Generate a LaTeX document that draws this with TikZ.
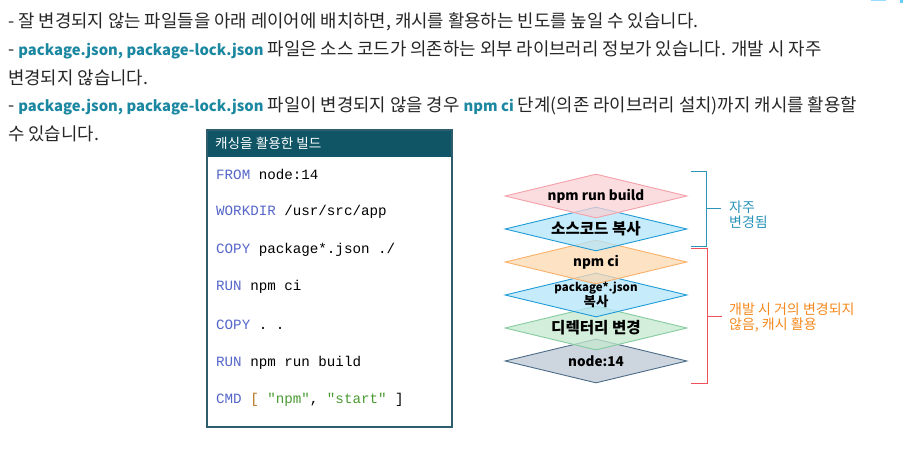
\documentclass[tikz,border=0pt]{standalone}
\usepackage{fontspec}
\setmainfont{Noto Sans CJK KR}
\newfontfamily\codefont{Liberation Mono}
\usetikzlibrary{shapes.geometric,positioning}

\definecolor{hiteal}{HTML}{1B87A0}
\definecolor{boxframe}{HTML}{2E5E6E}
\definecolor{boxhead}{HTML}{0F5566}
\definecolor{kwblue}{HTML}{5566C8}
\definecolor{strgreen}{HTML}{4A9A32}
\definecolor{brkorange}{HTML}{B8741E}
\definecolor{pinkfill}{HTML}{F9D1D5}
\definecolor{pinkline}{HTML}{F4A0A8}
\definecolor{bluefill}{HTML}{B3E5F9}
\definecolor{blueline}{HTML}{1E9AD6}
\definecolor{orangefill}{HTML}{FCD8B0}
\definecolor{orangeline}{HTML}{F8B068}
\definecolor{greenfill}{HTML}{C4E8CF}
\definecolor{greenline}{HTML}{84CB9D}
\definecolor{slatefill}{HTML}{BCC8D4}
\definecolor{slateline}{HTML}{4D6A89}
\definecolor{oftenteal}{HTML}{2A93B8}
\definecolor{rarelyorange}{HTML}{F5891E}
\definecolor{rarelyred}{HTML}{F0505A}

\newcommand{\hl}[1]{\textcolor{hiteal}{\bfseries\fontsize{14.8}{18}\selectfont #1}}

\tikzset{
	para/.style={anchor=west, inner sep=0, text=black!85, font=\fontsize{17.8}{20}\selectfont},
	codeline/.style={anchor=west, inner sep=0, font=\codefont\fontsize{14.2}{16}\selectfont},
	layer/.style={diamond, draw, line width=0.9pt, fill opacity=0.75, inner sep=0, minimum width=182, minimum height=44},
	layertext/.style={inner sep=0, align=center, font=\bfseries\fontsize{13.5}{14}\selectfont},
	kotext/.style={inner sep=0, align=center, font=\bfseries\fontsize{15.6}{16}\selectfont},
	side/.style={anchor=west, inner sep=0, align=left, font=\fontsize{14}{15}\selectfont}
}

\begin{document}
\begin{tikzpicture}[x=1pt,y=-1pt]
	
	\useasboundingbox (0,0) rectangle (903,463);
	\fill[blue!35!cyan!40] (871,0) rectangle (886,1.2);
	\fill[blue!35!cyan!60] (900,0) rectangle (903,3);
	
	\node[para] (line1) at (8,22) {- 잘 변경되지 않는 파일들을 아래 레이어에 배치하면, 캐시를 활용하는 빈도를 높일 수 있습니다.};
	\node[para] (line2) at (8,50) {- \hl{package.json, package-lock.json} 파일은 소스 코드가 의존하는 외부 라이브러리 정보가 있습니다. 개발 시 자주};
	\node[para] (line3) at (8,78) {변경되지 않습니다.};
	\node[para] (line4) at (8,106) {- \hl{package.json, package-lock.json} 파일이 변경되지 않을 경우 \hl{npm ci} 단계(의존 라이브러리 설치)까지 캐시를 활용할};
	\node[para] (line5) at (8,134) {수 있습니다.};
	
	\fill[boxhead] (207,130) rectangle (452,157);
	\draw[boxframe, line width=1.2pt] (207,130) rectangle (452,427);
	\node[anchor=west, inner sep=0, text=white, font=\fontsize{13.6}{14}\selectfont] (boxtitle) at (215,143.5) {캐싱을 활용한 빌드};
	
	\node[codeline] (from) at (216,174) {\textcolor{kwblue}{FROM} node:14};
	\node[codeline] (workdir) at (216,212) {\textcolor{kwblue}{WORKDIR} /usr/src/app};
	\node[codeline] (copypkg) at (216,250) {\textcolor{kwblue}{COPY} package*.json ./};
	\node[codeline] (runci) at (216,287) {\textcolor{kwblue}{RUN} npm ci};
	\node[codeline] (copyall) at (216,325) {\textcolor{kwblue}{COPY} . .};
	\node[codeline] (runbuild) at (216,363) {\textcolor{kwblue}{RUN} npm run build};
	\node[codeline] (cmd) at (216,400) {\textcolor{kwblue}{CMD} \textcolor{brkorange}{[} \textcolor{strgreen}{"npm"}, \textcolor{strgreen}{"start"} ]};
	
	\node[layer, draw=slateline, fill=slatefill] (base) at (596,361) {};
	\node[layer, draw=greenline, fill=greenfill] (workdirlayer) at (596,328) {};
	\node[layer, draw=blueline, fill=bluefill] (pkglayer) at (596,295) {};
	\node[layer, draw=orangeline, fill=orangefill] (cilayer) at (596,262) {};
	\node[layer, draw=blueline, fill=bluefill] (srclayer) at (596,229) {};
	\node[layer, draw=pinkline, fill=pinkfill] (buildlayer) at (596,196) {};
	
	\node[layertext] (buildtext) at (buildlayer) {npm run build};
	\node[kotext] (srctext) at (srclayer) {소스코드 복사};
	\node[layertext] (citext) at (cilayer) {npm ci};
	\node[layertext, font=\bfseries\fontsize{11.5}{13}\selectfont] (pkgtext) at (pkglayer) {package*.json\\{\fontsize{13.4}{13}\selectfont 복사}};
	\node[kotext] (workdirtext) at (workdirlayer) {디렉터리 변경};
	\node[layertext] (basetext) at (base) {node:14};
	
	\draw[oftenteal, line width=1pt] (691,171) -- (706,171) -- (706,246) -- (691,246);
	\draw[oftenteal, line width=1pt] (706,208.5) -- (721,208.5);
	\node[side, text=oftenteal] (often) at (729,215) {자주\\변경됨};
	
	\draw[rarelyred, line width=1pt] (691,248) -- (707,248) -- (707,383) -- (691,383);
	\draw[rarelyred, line width=1pt] (707,316.5) -- (722,316.5);
	\node[side, text=rarelyorange] (rarely) at (729,318) {개발 시 거의 변경되지\\않음, 캐시 활용};
	
\end{tikzpicture}
\end{document}
